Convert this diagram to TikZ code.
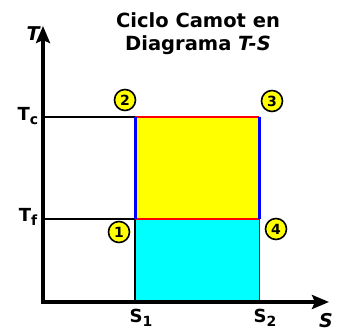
\documentclass[tikz,border=0pt]{standalone}
\usepackage{fontspec}
\setmainfont{DejaVu Sans}
\usetikzlibrary{arrows.meta}
\definecolor{cyanfill}{RGB}{0,255,255}
\definecolor{yelfill}{RGB}{255,255,0}
\definecolor{edgeblue}{RGB}{0,0,255}
\definecolor{edgered}{RGB}{255,0,0}
\begin{document}
\begin{tikzpicture}[x=1pt,y=-1pt,
  axis/.style={line width=3.8pt,-{Stealth[length=17pt,width=14pt,inset=3pt]}},
  guide/.style={line width=2.2pt},
  pt/.style={circle,draw=black,fill=yelfill,line width=1.6pt,minimum size=21pt,inner sep=0pt,font=\bfseries\fontsize{14}{14}\selectfont},
  lab/.style={font=\bfseries\fontsize{18}{18}\selectfont,inner sep=0pt},
  ttl/.style={font=\bfseries\fontsize{19.5}{23}\selectfont,inner sep=0pt,align=center}]
\useasboundingbox (0,0) rectangle (337,331);
\coordinate (O) at (43,302);
\coordinate (Ytop) at (43,26);
\coordinate (Xend) at (329,302);
\coordinate (Ac) at (43,117);
\coordinate (Af) at (43,219);
\coordinate (P2) at (135,117);
\coordinate (P3) at (259,117);
\coordinate (P1) at (135,219);
\coordinate (P4) at (259,219);
\coordinate (B1) at (135,302);
\coordinate (B2) at (259,302);
% fills
\fill[yelfill] (P2) rectangle (P4);
\fill[cyanfill] (P1) rectangle (B2);
% guide lines
\draw[guide] (Ac) -- (P2);
\draw[guide] (Af) -- (P1);
\draw[guide] (P1) -- (B1);
\draw[line width=1pt,color=teal!60!black] (P4) -- (B2);
% cycle edges
\draw[edgered,line width=2.8pt] (P2) -- (P3);
\draw[edgered,line width=2.8pt] (P1) -- (P4);
\draw[edgeblue,line width=3pt] (P2) -- (P1);
\draw[edgeblue,line width=3pt] (P3) -- (P4);
% axes
\draw[axis] (O) -- (Ytop);
\draw[axis] ([xshift=-1.9pt]O) -- (Xend);
% point markers
\node[pt] (n2) at (125,100) {2};
\node[pt] (n3) at (272,101) {3};
\node[pt] (n1) at (119,232) {1};
\node[pt] (n4) at (276,229) {4};
% labels
\node[lab,font=\bfseries\itshape\fontsize{19}{19}\selectfont] (lT) at (33,34) {T};
\node[lab] (lTc) at (28,116) {T\raisebox{-4.5pt}{\fontsize{14}{14}\selectfont c}};
\node[lab] (lTf) at (28,217) {T\raisebox{-4.5pt}{\fontsize{14}{14}\selectfont f}};
\node[lab] (lS1) at (141,318) {S\raisebox{-4.5pt}{\fontsize{14}{14}\selectfont 1}};
\node[lab] (lS2) at (265,318) {S\raisebox{-4.5pt}{\fontsize{14}{14}\selectfont 2}};
\node[lab,font=\bfseries\itshape\fontsize{19}{19}\selectfont] (lS) at (326,321) {S};
\node[ttl] (title) at (198,34) {Ciclo Camot en\\Diagrama \textit{T-S}};
\end{tikzpicture}
\end{document}
